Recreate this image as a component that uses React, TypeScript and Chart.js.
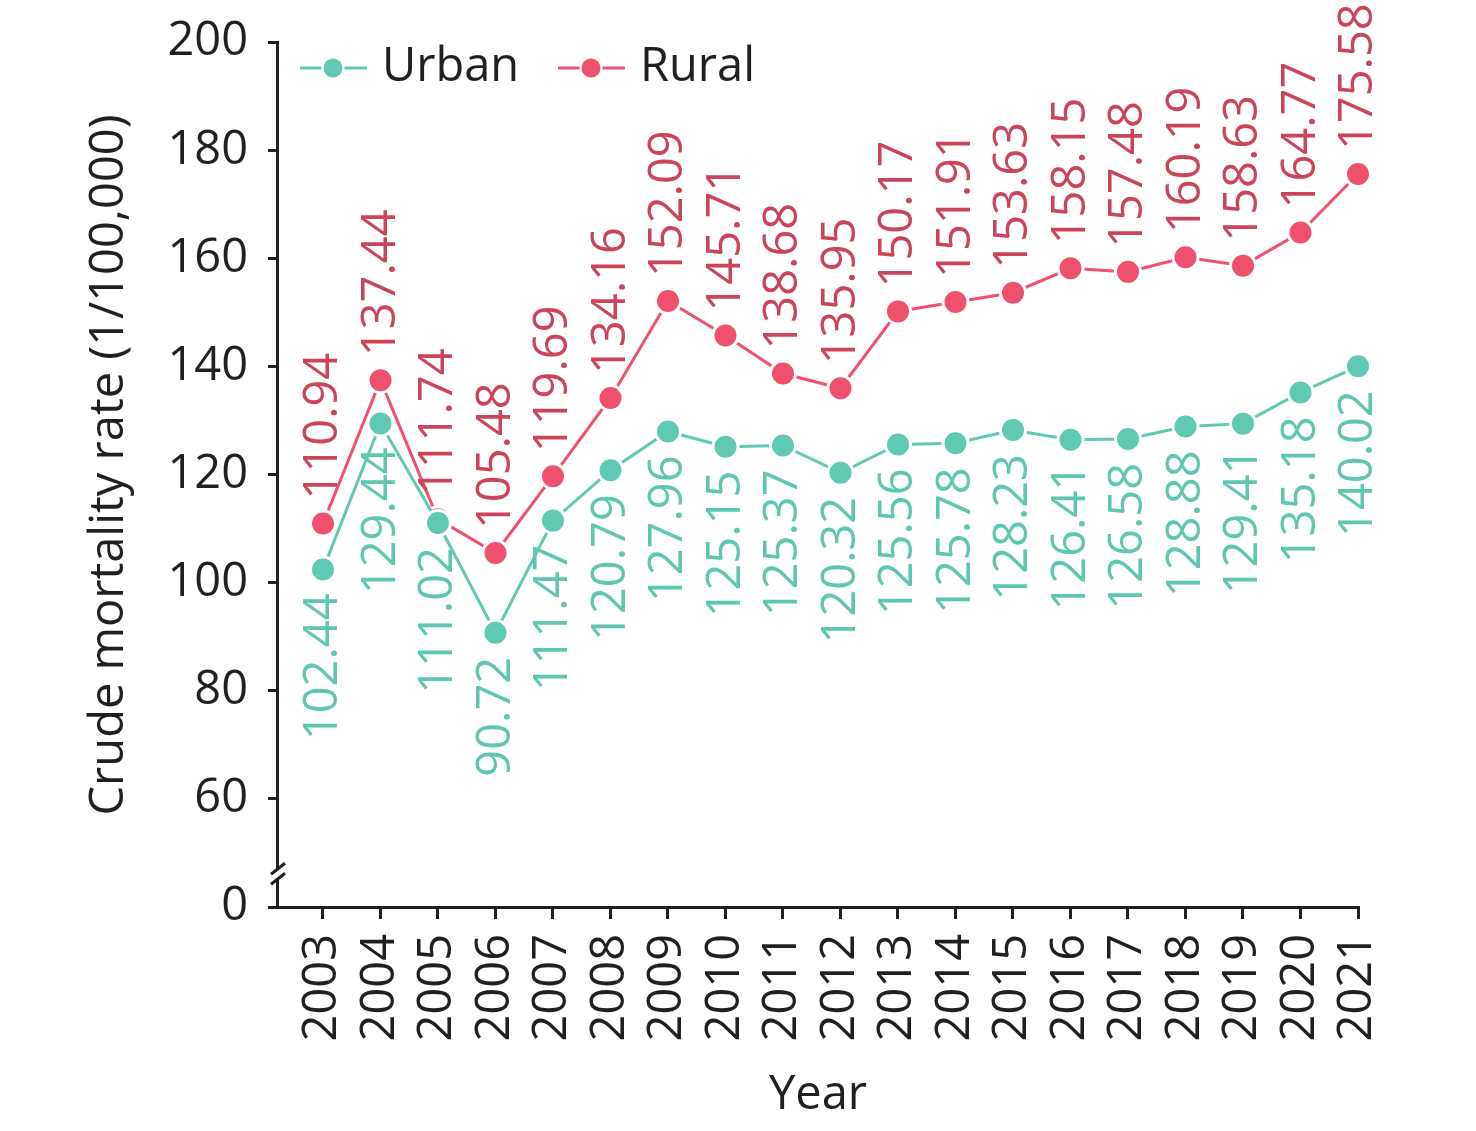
import React, { useEffect, useRef } from "react";
import { Chart, registerables } from "chart.js";

Chart.register(...registerables);

// ---------- data ----------
const years = [2003, 2004, 2005, 2006, 2007, 2008, 2009, 2010, 2011, 2012, 2013, 2014, 2015, 2016, 2017, 2018, 2019, 2020, 2021];
const urban = [102.44, 129.44, 111.02, 90.72, 111.47, 120.79, 127.96, 125.15, 125.37, 120.32, 125.56, 125.78, 128.23, 126.41, 126.58, 128.88, 129.41, 135.18, 140.02];
const rural = [110.94, 137.44, 111.74, 105.48, 119.69, 134.16, 152.09, 145.71, 138.68, 135.95, 150.17, 151.91, 153.63, 158.15, 157.48, 160.19, 158.63, 164.77, 175.58];
// broken axis: the lowest tick (40) is labelled "0"
const yTickValues = [40, 60, 80, 100, 120, 140, 160, 180, 200];
const yTickLabels = ["0", "60", "80", "100", "120", "140", "160", "180", "200"];
const seriesNames = ["Urban", "Rural"];

const FONT = "'Open Sans'";
const INK = "#231F20";
const URBAN_COLOR = "#5FC9B3";
const URBAN_LABEL = "#5EC6B1";
const RURAL_COLOR = "#EF506C";
const RURAL_LABEL = "#CB4459";

const overlayPlugin = {
  id: "overlay",
  afterDatasetsDraw(chart: any) {
    const ctx = chart.ctx;
    ctx.save();
    ctx.font = `47px ${FONT}`;
    ctx.textBaseline = "middle";
    chart.data.datasets.forEach((ds: any, di: number) => {
      const meta = chart.getDatasetMeta(di);
      const above = di === 1;
      ctx.fillStyle = above ? RURAL_LABEL : URBAN_LABEL;
      meta.data.forEach((pt: any, i: number) => {
        const v = ds.data[i].y;
        ctx.save();
        ctx.translate(pt.x + 1, above ? pt.y - 24 : pt.y + 24);
        ctx.rotate(-Math.PI / 2);
        ctx.textAlign = above ? "left" : "right";
        ctx.fillText(v.toFixed(2), 0, 0);
        ctx.restore();
      });
    });
    ctx.restore();
  },
  afterDraw(chart: any) {
    const ctx = chart.ctx;
    const area = chart.chartArea;
    const ys = chart.scales.y;
    ctx.save();
    // axis break
    const x0 = area.left;
    const yc = ys.getPixelForValue(45.5);
    ctx.fillStyle = "#ffffff";
    ctx.beginPath();
    ctx.moveTo(x0 - 6, yc - 3);
    ctx.lineTo(x0 + 8, yc - 14);
    ctx.lineTo(x0 + 8, yc - 4);
    ctx.lineTo(x0 - 6, yc + 7);
    ctx.closePath();
    ctx.fill();
    ctx.strokeStyle = INK;
    ctx.lineWidth = 3;
    ctx.beginPath();
    ctx.moveTo(x0 - 6, yc - 3);
    ctx.lineTo(x0 + 8, yc - 14);
    ctx.moveTo(x0 - 6, yc + 7);
    ctx.lineTo(x0 + 8, yc - 4);
    ctx.stroke();

    // axis titles
    ctx.fillStyle = INK;
    ctx.font = `47px ${FONT}`;
    ctx.textAlign = "center";
    ctx.textBaseline = "middle";
    ctx.fillText("Year", 818, 1096);
    ctx.save();
    ctx.translate(110, 465);
    ctx.rotate(-Math.PI / 2);
    ctx.fillText("Crude mortality rate (1/100,000)", 0, 0);
    ctx.restore();

    // legend
    const items = [
      { name: seriesNames[0], color: URBAN_COLOR, x: 300 },
      { name: seriesNames[1], color: RURAL_COLOR, x: 558 },
    ];
    const ly = 68;
    items.forEach((it) => {
      ctx.strokeStyle = it.color;
      ctx.lineWidth = 3;
      ctx.beginPath();
      ctx.moveTo(it.x, ly);
      ctx.lineTo(it.x + 67, ly);
      ctx.stroke();
      ctx.beginPath();
      ctx.arc(it.x + 33, ly, 11.5, 0, Math.PI * 2);
      ctx.fillStyle = "#ffffff";
      ctx.fill();
      ctx.beginPath();
      ctx.arc(it.x + 33, ly, 9.5, 0, Math.PI * 2);
      ctx.fillStyle = it.color;
      ctx.fill();
      ctx.fillStyle = INK;
      ctx.textAlign = "left";
      ctx.fillText(it.name, it.x + 82, ly);
    });
    ctx.restore();
  },
};

export default function App() {
  const ref = useRef<HTMLCanvasElement | null>(null);
  useEffect(() => {
    document.body.style.margin = "0";
    if (!ref.current) return;
    const mk = (vals: number[]) => vals.map((v, i) => ({ x: years[i], y: v }));
    const chart = new Chart(ref.current, {
      type: "line",
      data: {
        datasets: [
          {
            label: seriesNames[0],
            data: mk(urban),
            borderColor: URBAN_COLOR,
            backgroundColor: URBAN_COLOR,
            pointBackgroundColor: URBAN_COLOR,
            pointBorderColor: "#ffffff",
            pointBorderWidth: 3,
            pointRadius: 12.5,
            borderWidth: 3,
            clip: false,
          },
          {
            label: seriesNames[1],
            data: mk(rural),
            borderColor: RURAL_COLOR,
            backgroundColor: RURAL_COLOR,
            pointBackgroundColor: RURAL_COLOR,
            pointBorderColor: "#ffffff",
            pointBorderWidth: 3,
            pointRadius: 12.5,
            borderWidth: 3,
            clip: false,
          },
        ],
      },
      options: {
        responsive: false,
        animation: false,
        layout: { autoPadding: false, padding: { top: 42, right: 118, bottom: 0, left: 0 } },
        plugins: { legend: { display: false }, tooltip: { enabled: false } },
        scales: {
          x: {
            type: "linear",
            min: 2002.2,
            max: 2021,
            afterBuildTicks: (s: any) => {
              s.ticks = years.map((v) => ({ value: v }));
            },
            afterFit: (s: any) => {
              s.height = 224;
              s.paddingLeft = 0;
              s.paddingRight = 0;
            },
            grid: { drawOnChartArea: false, drawTicks: true, tickLength: 12, color: INK, lineWidth: 3 },
            border: { display: true, color: INK, width: 3 },
            ticks: {
              autoSkip: false,
              minRotation: 90,
              maxRotation: 90,
              padding: 15,
              color: INK,
              font: { family: FONT, size: 47 },
              callback: (v: any) => String(v),
            },
          },
          y: {
            type: "linear",
            min: 40,
            max: 200,
            afterBuildTicks: (s: any) => {
              s.ticks = yTickValues.map((v) => ({ value: v }));
            },
            afterFit: (s: any) => {
              s.width = 277;
              s.paddingTop = 0;
              s.paddingBottom = 0;
            },
            grid: { drawOnChartArea: false, drawTicks: true, tickLength: 9, color: INK, lineWidth: 3 },
            border: { display: true, color: INK, width: 3 },
            ticks: {
              padding: 20,
              color: INK,
              font: { family: FONT, size: 47 },
              callback: (v: any) => {
                const k = yTickValues.indexOf(Number(v));
                return k >= 0 ? yTickLabels[k] : "";
              },
            },
          },
        },
      },
      plugins: [overlayPlugin],
    });
    return () => chart.destroy();
  }, []);
  return (
    <canvas ref={ref} width={1476} height={1131} style={{ display: "block", width: 1476, height: 1131 }} />
  );
}
